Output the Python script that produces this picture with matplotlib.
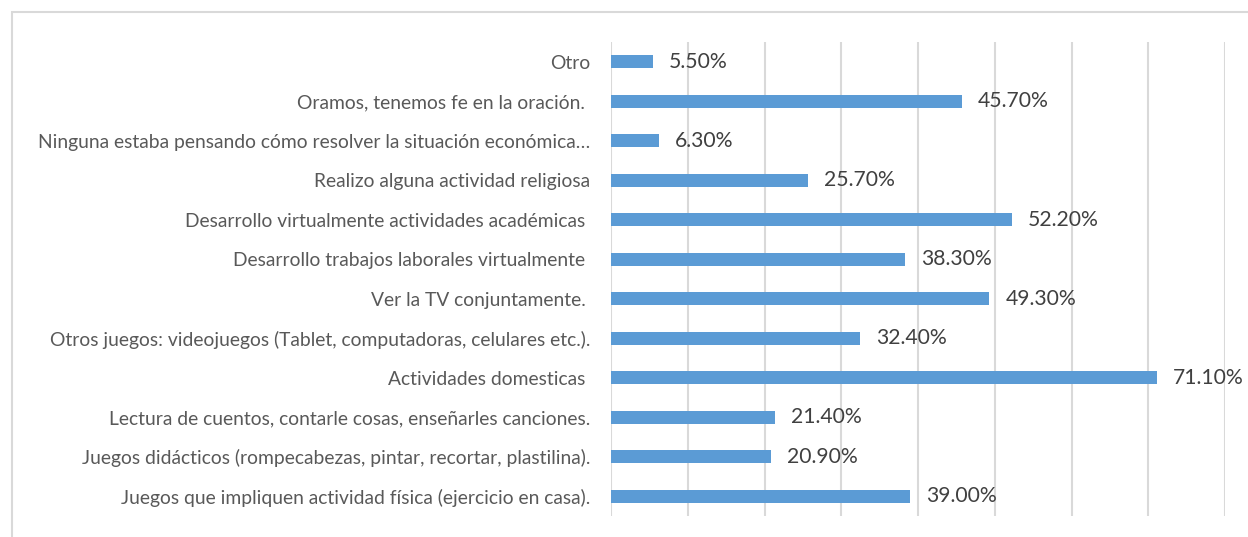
import matplotlib.pyplot as plt
import matplotlib.patches as mpatches

# categories from bottom to top
categorias = [
    "Juegos que impliquen actividad física (ejercicio en casa).",
    "Juegos didácticos (rompecabezas, pintar, recortar, plastilina).",
    "Lectura de cuentos, contarle cosas, enseñarles canciones.",
    "Actividades domesticas ",
    "Otros juegos: videojuegos (Tablet, computadoras, celulares etc.).",
    "Ver la TV conjuntamente. ",
    "Desarrollo trabajos laborales virtualmente ",
    "Desarrollo virtualmente actividades académicas ",
    "Realizo alguna actividad religiosa",
    "Ninguna estaba pensando cómo resolver la situación económica…",
    "Oramos, tenemos fe en la oración. ",
    "Otro",
]
valores = [39.0, 20.9, 21.4, 71.1, 32.4, 49.3, 38.3, 52.2, 25.7, 6.3, 45.7, 5.5]

plt.rcParams['font.family'] = ['Lato', 'DejaVu Sans']
gris = '#595959'

fig = plt.figure(figsize=(12.48, 5.37), dpi=100)
ax = fig.add_axes([0.4896, 0.0391, 0.9816 - 0.4896, 0.9218 - 0.0391])

y = range(len(categorias))
ax.barh(y, valores, height=0.33, color='#5b9bd5', zorder=3)
for yi, v in zip(y, valores):
    ax.annotate(f"{v:.2f}%", (v, yi), xytext=(11.5, 0), textcoords='offset points',
                ha='left', va='center', fontsize=15.2, color='#404040')

ax.set_xlim(0, 80)
ax.set_ylim(-0.5, len(categorias) - 0.5)
ax.set_xticks(range(0, 81, 10))
ax.set_xticklabels([])
ax.xaxis.grid(True, color='#d9d9d9', linewidth=1.5, zorder=0)
ax.set_yticks(list(y))
ax.set_yticklabels(categorias, fontsize=13.9, color=gris)
ax.tick_params(axis='both', length=0, pad=15)
for s in ax.spines.values():
    s.set_visible(False)

# outer frame
fig.patches.append(mpatches.Rectangle((12 / 1248, -0.05), 1.1, 1 - 12 / 537 + 0.05,
                                      transform=fig.transFigure, fill=False,
                                      edgecolor='#d9d9d9', linewidth=1.5))

fig.savefig('out.png', dpi=100)
